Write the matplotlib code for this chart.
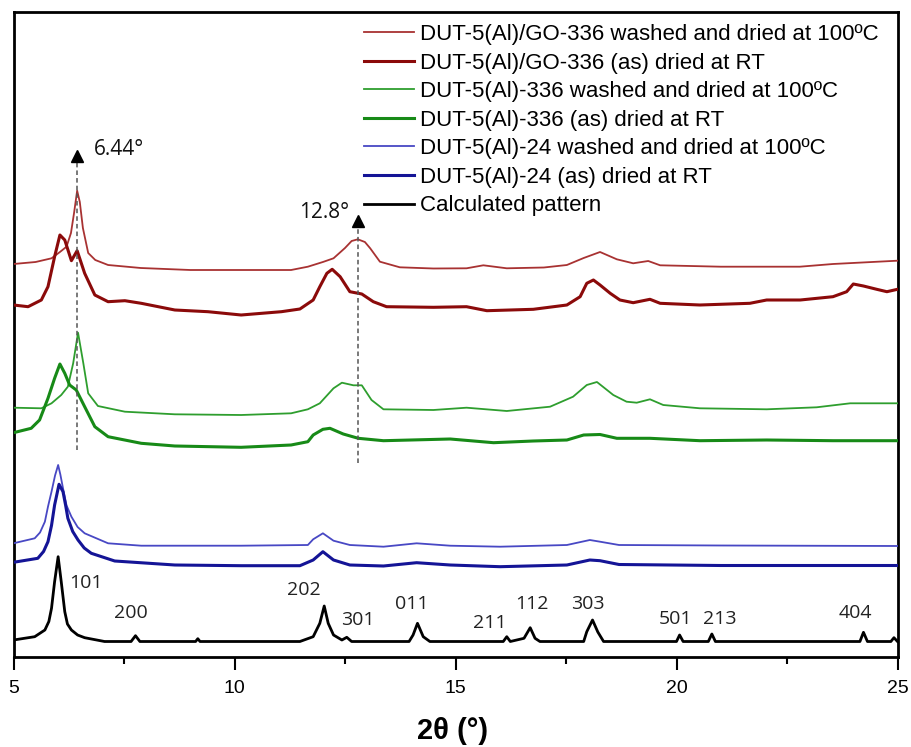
import matplotlib
matplotlib.use("Agg")
import matplotlib.pyplot as plt
import numpy as np
from matplotlib.ticker import MultipleLocator

plt.rcParams['font.family'] = ['Liberation Sans', 'DejaVu Sans']

# ---- diffraction patterns (2theta in degrees, intensity in a.u. above each trace's baseline) ----
go336_washed_x = [5.0, 5.5, 5.86, 6.05, 6.2, 6.3, 6.37, 6.44, 6.5, 6.57, 6.69, 6.85, 7.14, 7.88, 9.0,
                  10.5, 11.28, 11.66, 12.0, 12.24, 12.5, 12.65, 12.79, 12.95, 13.07, 13.29, 13.74, 14.5,
                  15.25, 15.63, 16.16, 17.0, 17.52, 17.9, 18.27, 18.65, 19.02, 19.36, 19.63, 21.0,
                  22.79, 23.54, 25.0]
go336_washed_y = [7.5, 9.5, 13.2, 19.5, 24.8, 38.5, 58.5, 80.8, 69.5, 43.5, 18.5, 11.5, 6.5, 3.5, 1.5,
                  1.5, 1.5, 4.8, 9.5, 13.2, 23.5, 30.5, 32.2, 29.5, 23.2, 9.8, 4.2, 3.0,
                  3.2, 6.2, 3.2, 4.0, 6.5, 13.5, 19.5, 12.2, 8.2, 10.5, 6.2, 4.8,
                  4.8, 7.5, 10.8]

go336_as_x = [5.0, 5.33, 5.63, 5.78, 5.93, 6.05, 6.16, 6.31, 6.44, 6.61, 6.84, 7.14, 7.52, 7.89, 8.65,
              9.4, 10.15, 11.06, 11.48, 11.78, 11.93, 12.09, 12.21, 12.39, 12.61, 12.88, 13.14, 13.44,
              14.5, 15.25, 15.71, 16.76, 17.52, 17.82, 17.97, 18.12, 18.27, 18.5, 18.72, 19.02, 19.4,
              19.63, 20.53, 21.66, 22.04, 22.8, 23.54, 23.85, 24.0, 24.23, 24.53, 24.76, 25.0]
go336_as_y = [11.5, 9.8, 16.5, 29.8, 59.8, 81.5, 76.5, 55.8, 65.8, 43.2, 21.5, 14.8, 15.8, 13.2, 6.5,
              4.8, 1.5, 4.8, 7.5, 16.5, 29.8, 43.2, 47.2, 39.8, 24.8, 22.5, 14.8, 9.8,
              9.2, 9.8, 5.8, 7.2, 11.5, 19.8, 33.2, 36.5, 31.5, 23.2, 16.5, 13.8, 17.2,
              13.2, 11.5, 13.2, 16.5, 16.5, 19.8, 24.8, 32.5, 30.5, 27.2, 24.8, 27.2]

al336_washed_x = [5.0, 5.63, 5.86, 6.08, 6.23, 6.35, 6.46, 6.58, 6.69, 6.91, 7.52, 8.65, 10.15, 11.28,
                  11.66, 11.93, 12.24, 12.43, 12.69, 12.88, 13.1, 13.37, 14.5, 15.25, 16.16, 17.14,
                  17.66, 17.97, 18.2, 18.57, 18.87, 19.1, 19.4, 19.7, 20.53, 22.04, 23.17, 23.93, 25.0]
al336_washed_y = [8.8, 8.2, 13.2, 21.5, 29.8, 53.2, 83.8, 53.2, 23.2, 10.5, 4.8, 2.2, 1.5, 3.2,
                  7.2, 13.2, 28.2, 33.8, 31.2, 31.2, 16.5, 7.2, 6.5, 8.8, 5.5, 9.8,
                  19.8, 31.5, 34.5, 21.5, 14.8, 13.8, 17.2, 11.5, 8.2, 7.2, 9.2, 13.2, 13.2]

al336_as_x = [5.0, 5.4, 5.59, 5.78, 5.93, 6.05, 6.16, 6.27, 6.42, 6.61, 6.84, 7.14, 7.89, 8.65, 10.15,
              11.28, 11.66, 11.78, 12.0, 12.16, 12.46, 12.8, 13.37, 14.88, 15.86, 16.76, 17.52, 17.9,
              18.27, 18.65, 19.4, 20.53, 22.04, 23.54, 25.0]
al336_as_y = [18.8, 23.2, 31.5, 53.2, 73.2, 87.5, 78.2, 66.5, 61.5, 44.8, 24.8, 14.8, 8.2, 5.5, 4.2,
              6.5, 9.8, 16.5, 22.2, 23.2, 17.5, 13.2, 10.8, 12.5, 8.8, 10.5, 11.5, 16.5,
              17.0, 13.2, 13.2, 10.8, 11.5, 10.8, 10.8]

al24_washed_x = [5.0, 5.48, 5.6, 5.71, 5.78, 5.86, 5.94, 6.01, 6.06, 6.12, 6.2, 6.31, 6.45, 6.61, 7.14,
                 7.89, 10.15, 11.66, 11.78, 12.0, 12.24, 12.61, 13.37, 14.12, 14.88, 16.01, 17.52,
                 18.04, 18.27, 18.7, 21.0, 25.0]
al24_washed_y = [8.2, 13.2, 19.0, 29.8, 44.8, 59.8, 76.0, 86.5, 77.0, 63.2, 46.0, 34.8, 24.5, 18.2, 8.2,
                 5.8, 5.8, 6.5, 12.2, 18.2, 10.8, 6.5, 4.8, 8.2, 5.8, 4.8, 6.5,
                 11.5, 9.8, 6.5, 6.0, 5.5]

al24_as_x = [5.0, 5.55, 5.68, 5.78, 5.86, 5.93, 6.03, 6.12, 6.18, 6.23, 6.34, 6.46, 6.6, 6.76, 7.29,
             8.65, 10.15, 11.48, 11.78, 12.0, 12.24, 12.61, 13.37, 14.12, 14.88, 16.01, 17.52, 18.04,
             18.27, 18.7, 21.0, 25.0]
al24_as_y = [9.2, 13.2, 20.0, 29.8, 46.0, 66.5, 87.2, 79.8, 66.0, 53.2, 40.0, 31.5, 23.5, 18.2, 10.5,
             6.5, 5.8, 5.8, 11.5, 19.8, 11.5, 6.5, 5.5, 8.8, 6.5, 4.8, 6.5, 11.5,
             10.8, 7.0, 6.0, 6.0]

calc_x = [5.0, 5.48, 5.71, 5.8, 5.86, 5.93, 6.01, 6.08, 6.16, 6.22, 6.31, 6.45, 6.61, 7.06, 7.66, 7.76,
          7.86, 9.12, 9.17, 9.22, 11.48, 11.78, 11.93, 12.03, 12.12, 12.24, 12.43, 12.54, 12.65,
          13.95, 14.04, 14.14, 14.27, 14.42, 16.08, 16.16, 16.24, 16.55, 16.69, 16.8, 16.91, 17.9,
          17.97, 18.1, 18.22, 18.35, 20.0, 20.07, 20.15, 20.72, 20.8, 20.88, 24.15, 24.23, 24.32,
          24.85, 24.92, 25.0]
calc_y = [6.5, 9.8, 16.5, 25.0, 38.2, 64.8, 89.8, 64.8, 34.8, 22.5, 16.5, 11.5, 8.8, 5.0, 5.0, 10.8,
          5.0, 5.0, 7.8, 5.0, 5.0, 9.8, 23.2, 40.5, 23.2, 11.5, 6.5, 9.2, 5.0,
          5.0, 11.5, 23.2, 9.8, 5.0, 5.0, 9.8, 5.0, 8.2, 18.8, 8.2, 5.0, 5.0,
          14.8, 26.5, 14.5, 5.0, 5.0, 11.5, 5.0, 5.0, 12.5, 5.0, 5.0, 14.2, 5.0,
          5.0, 8.8, 5.0]

series_labels = [
    "DUT-5(Al)/GO-336 washed and dried at 100ºC",
    "DUT-5(Al)/GO-336 (as) dried at RT",
    "DUT-5(Al)-336 washed and dried at 100ºC",
    "DUT-5(Al)-336 (as) dried at RT",
    "DUT-5(Al)-24 washed and dried at 100ºC",
    "DUT-5(Al)-24 (as) dried at RT",
    "Calculated pattern",
]
series_x = [go336_washed_x, go336_as_x, al336_washed_x, al336_as_x, al24_washed_x, al24_as_x, calc_x]
series_y = [go336_washed_y, go336_as_y, al336_washed_y, al336_as_y, al24_washed_y, al24_as_y, calc_y]

# vertical stacking of the traces
stack_offsets = [385, 340, 240, 205, 105, 85, 10]

# Miller indices of the calculated reflections
hkl_labels = ["101", "200", "202", "301", "011", "211", "112", "303", "501", "213", "404"]
hkl_label_x = [6.63, 7.65, 11.56, 12.78, 14.01, 15.78, 16.74, 18.0, 19.98, 20.97, 24.05]
hkl_label_y = [73, 44, 66.5, 36.5, 52.5, 34, 52.5, 52.5, 37.5, 37.5, 43.5]

# marked reflections
marked_angles = [6.44, 12.8]
marked_texts = ["6.44°", "12.8°"]

# ---- styling ----
colors = ['#a83232', '#8b0a0a', '#2e9e2e', '#178a17', '#4848c4', '#141496', '#000000']
widths = [1.3, 2.2, 1.3, 2.2, 1.3, 2.2, 2.0]

fig = plt.figure(figsize=(9.11, 7.47), dpi=100)
ax = fig.add_axes([13.5 / 911, 90.5 / 747, 884 / 911, 644.5 / 747])

for xs, ys, off, c, lw, lab in zip(series_x, series_y, stack_offsets, colors, widths, series_labels):
    ax.plot(xs, np.asarray(ys) + off, color=c, lw=lw, label=lab,
            solid_joinstyle='round', zorder=3)

# dashed guide lines with arrow heads
guide_bottom = [206.5, 193.5]
guide_tip = [506.5, 441.5]
for xa, yb, yt in zip(marked_angles, guide_bottom, guide_tip):
    ax.plot([xa, xa], [yb, yt - 10], ls=(0, (3, 2)), color='#555555', lw=1.1, zorder=4)
    ax.plot([xa], [yt - 6.3], marker='^', ms=9, color='black', zorder=5)

ax.text(6.82, 507.5, marked_texts[0], fontsize=15, family=['Open Sans', 'DejaVu Sans'],
        ha='left', va='center', color='#111111')
ax.text(12.02, 444.5, marked_texts[1], fontsize=15, family=['Open Sans', 'DejaVu Sans'],
        ha='center', va='center', color='#111111')

for lab, lx, ly in zip(hkl_labels, hkl_label_x, hkl_label_y):
    ax.text(lx, ly, lab, fontsize=14, family=['Open Sans', 'DejaVu Sans'],
            ha='center', va='center', color='#222222')

ax.set_xlim(5, 25)
ax.set_ylim(0, 644.5)
ax.set_yticks([])
ax.xaxis.set_major_locator(MultipleLocator(5))
ax.xaxis.set_minor_locator(MultipleLocator(2.5))
ax.tick_params(axis='x', which='major', direction='out', length=9, width=1.5,
               labelsize=14, pad=8)
ax.tick_params(axis='x', which='minor', direction='out', length=5, width=1.5)
for s in ax.spines.values():
    s.set_linewidth(2)

ax.set_xlabel("2θ (°)", fontsize=21, fontweight='bold')
ax.xaxis.set_label_coords((453 - 13.5) / 884, (656.5 - 731) / 644.5)
ax.xaxis.label.set_va('center')

ax.legend(loc='upper left', bbox_to_anchor=(364 / 911, 1 - 24 / 747),
          bbox_transform=fig.transFigure, frameon=False, fontsize=16,
          handlelength=2.24, handletextpad=0.27, labelspacing=0.34,
          borderpad=0, borderaxespad=0)

fig.savefig("out.png", dpi=100)
